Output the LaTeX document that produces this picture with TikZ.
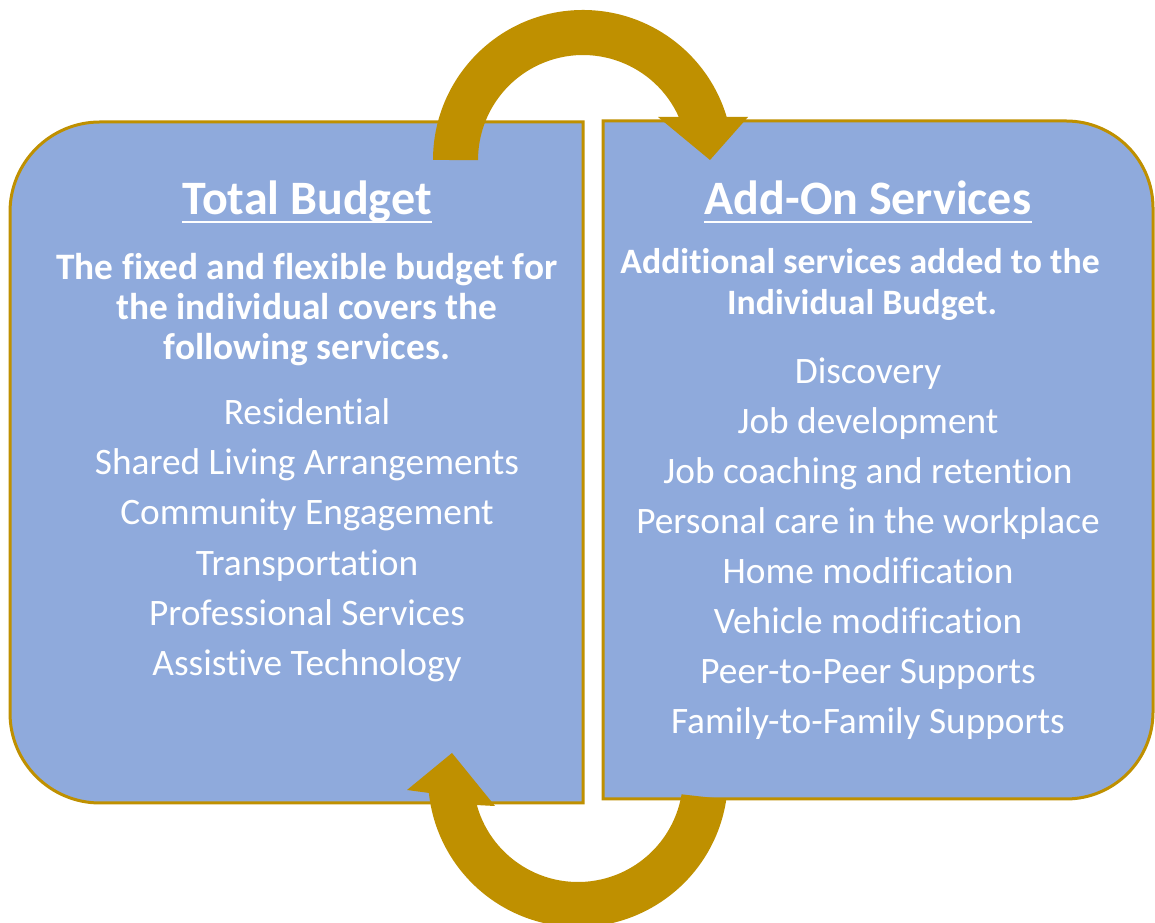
\documentclass[tikz,border=0pt]{standalone}
\usepackage{fontspec}
\setmainfont{Carlito}[RawFeature=-liga]
\usetikzlibrary{calc}
\definecolor{boxfill}{RGB}{143,170,220}
\definecolor{gold}{RGB}{191,144,0}
\begin{document}
\begin{tikzpicture}[x=0.75pt,y=0.75pt,
  panel/.style={fill=boxfill,draw=gold,line width=2.25pt},
  cyclearrow/.style={fill=gold,draw=none},
  titletext/.style={text=white,font=\fontsize{36}{40}\selectfont\bfseries,inner sep=0,anchor=base},
  subtext/.style={text=white,font=\fontsize{28}{30}\selectfont\bfseries,inner sep=0,anchor=base},
  subtextr/.style={text=white,font=\fontsize{26.8}{30}\selectfont\bfseries,inner sep=0,anchor=base},
  itemtext/.style={text=white,font=\fontsize{28}{30}\selectfont,inner sep=0,anchor=base},
  uline/.style={draw=white,line width=1.9pt}]
\useasboundingbox (0,0) rectangle (1155,923);
\fill[white] (0,0) rectangle (1155,923);
% panels
\draw[panel] (583,801) -- (100,801) arc[start angle=90,end angle=180,radius=67.5pt]
  -- (10,210) arc[start angle=180,end angle=270,radius=67.5pt] -- (583,120) -- cycle;
\draw[panel] (603,802) -- (1066,802) arc[start angle=90,end angle=0,radius=65.25pt]
  -- (1153,211) arc[start angle=0,end angle=-90,radius=65.25pt] -- (603,124) -- cycle;
% top arrow
\fill[cyclearrow] (433,763) arc[start angle=180,end angle=16.7,radius=112.5pt]
  -- (748,806) -- (710,763) -- (658,806) -- (678.8,806)
  arc[start angle=24.2,end angle=180,radius=78.75pt] -- cycle;
% bottom arrow
\fill[cyclearrow] ($(578,146)+(-8.6:150)$) arc[start angle=-8.6,end angle=-173.9,radius=112.5pt]
  -- (407,133) -- (452,170) -- (495,117) -- ($(578,146)+(-164.5:105)$)
  arc[start angle=-164.5,end angle=-9.5,radius=78.75pt] -- cycle;
% left texts
\node[titletext] (lt) at (307,708) {Total Budget};
\draw[uline] ($(lt.base west)+(0,-7)$) -- ($(lt.base east)+(0,-7)$);
\node[subtext] (ls1) at (307,643) {The fixed and flexible budget for};
\node[subtext] (ls2) at (307,603) {the individual covers the};
\node[subtext] (ls3) at (307,563) {following services.};
\node[itemtext] (li1) at (307,498) {Residential};
\node[itemtext] (li2) at (307,448) {Shared Living Arrangements};
\node[itemtext] (li3) at (307,398) {Community Engagement};
\node[itemtext] (li4) at (307,347) {Transportation};
\node[itemtext] (li5) at (307,297) {Professional Services};
\node[itemtext] (li6) at (307,247) {Assistive Technology};
% right texts
\node[titletext] (rt) at (868,708) {Add-On Services};
\draw[uline] ($(rt.base west)+(0,-7)$) -- ($(rt.base east)+(0,-7)$);
\node[subtextr] (rs1) at (860,649) {Additional services added to the};
\node[subtextr] (rs2) at (862,608) {Individual Budget.};
\node[itemtext] (ri1) at (868,539) {Discovery};
\node[itemtext] (ri2) at (868,489) {Job development};
\node[itemtext] (ri3) at (868,439) {Job coaching and retention};
\node[itemtext] (ri4) at (868,389) {Personal care in the workplace};
\node[itemtext] (ri5) at (868,339) {Home modification};
\node[itemtext] (ri6) at (868,289) {Vehicle modification};
\node[itemtext] (ri7) at (868,239) {Peer-to-Peer Supports};
\node[itemtext] (ri8) at (868,189) {Family-to-Family Supports};
\end{tikzpicture}
\end{document}
